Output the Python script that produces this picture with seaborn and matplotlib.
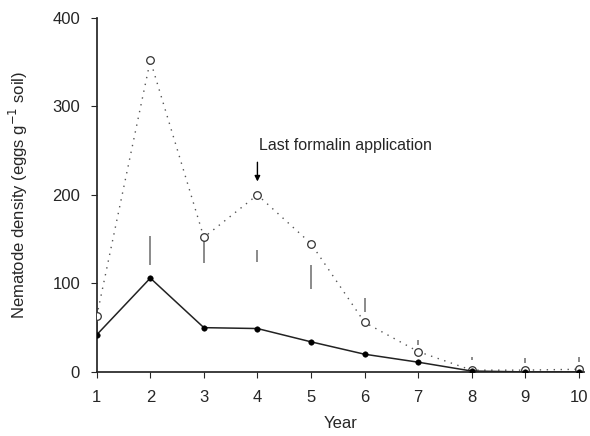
"""
Nematode density over ten years - recreated chart
"""

import numpy as np
import pandas as pd
import matplotlib
matplotlib.use('Agg')
import matplotlib.pyplot as plt
import seaborn as sns

# dados
anos = [1, 2, 3, 4, 5, 6, 7, 8, 9, 10]
densidade_aberto = [63, 352, 152, 200, 145, 56, 23, 2, 2, 3]
densidade_cheio = [42, 106, 50, 49, 34, 20, 11, 1, 0, 0]

# barras verticais (inferior / superior) que aparecem acima da linha cheia
barra_inf = [45, 121, 123, 124, 94, 68, 30, 14, 10, 11]
barra_sup = [56, 153, 150, 138, 121, 84, 36, 17, 16, 17]

sns.set_theme(style='ticks')
plt.rcParams['font.family'] = ['Liberation Sans', 'DejaVu Sans']

dados = pd.DataFrame({'Ano': anos, 'Aberto': densidade_aberto, 'Cheio': densidade_cheio})

fig = plt.figure(figsize=(5.9, 4.36), dpi=100)
ax = fig.add_axes([0.164, 0.147, 0.826, 0.812])

# barras de erro
ax.vlines(anos, barra_inf, barra_sup, color='#777777', linewidth=1.2, zorder=2)

# série com círculos abertos (linha pontilhada)
sns.lineplot(x='Ano', y='Aberto', data=dados, ax=ax, color='#555555',
             linestyle=(0, (1, 4)), linewidth=1.0, zorder=2)
sns.scatterplot(x='Ano', y='Aberto', data=dados, ax=ax, marker='o', s=30,
                facecolor='white', edgecolor='#333333', linewidth=0.9, zorder=3)

# série com círculos cheios (linha contínua)
sns.lineplot(x='Ano', y='Cheio', data=dados, ax=ax, color='#222222',
             linewidth=1.1, zorder=4)
sns.scatterplot(x='Ano', y='Cheio', data=dados, ax=ax, marker='o', s=16,
                color='black', edgecolor='black', zorder=5)

# anotação
ax.annotate('', xy=(4, 212), xytext=(4, 240),
            arrowprops=dict(arrowstyle='-|>', color='black', lw=1.0, mutation_scale=8))
ax.text(4.03, 247, 'Last formalin application', fontsize=11.5, ha='left', va='bottom')

ax.set_xlim(1, 10.1)
ax.set_ylim(0, 400)
ax.set_xticks(anos)
ax.set_yticks([0, 100, 200, 300, 400])
ax.tick_params(axis='both', labelsize=12, length=4, width=0.8, direction='out')
ax.tick_params(axis='y', pad=8)
ax.tick_params(axis='x', pad=9)
ax.set_xlabel('Year', fontsize=12, labelpad=8)
ax.set_ylabel('Nematode density (eggs g$^{-1}$ soil)', fontsize=12, labelpad=16)
sns.despine(ax=ax)

fig.savefig('out.png', dpi=100)
